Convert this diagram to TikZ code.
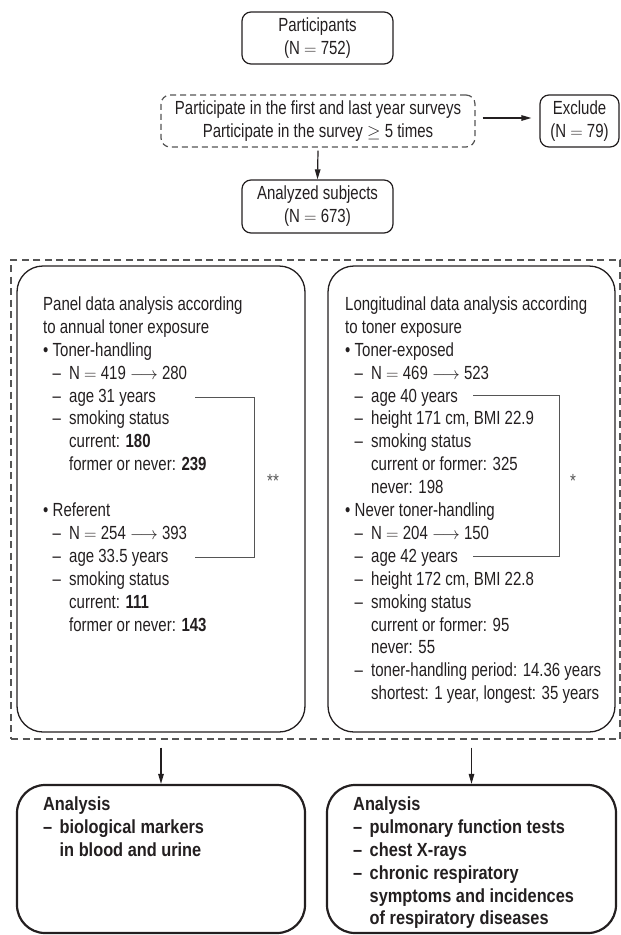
\documentclass[tikz,border=0pt]{standalone}
\usepackage{fontspec}
\setmainfont{Liberation Sans}[FakeStretch=0.79]
\newfontfamily\resfont{Liberation Sans}[FakeStretch=0.86]
\usetikzlibrary{arrows.meta}
\definecolor{ink}{HTML}{231F20}
\definecolor{dashc}{HTML}{555555}
\newcommand\myfs{\fontsize{19pt}{22.9pt}\selectfont}
\newcommand\myBul{\makebox[9.5pt][l]{\textbullet}}
\newcommand\myDash{\hspace*{9.5pt}\makebox[16.5pt][l]{–}}
\newcommand\myCont{\hspace*{26pt}}
\newcommand\myDashB{\makebox[16.5pt][l]{–}}
\newcommand\myContB{\hspace*{16.5pt}}
\begin{document}
\begin{tikzpicture}[x=1pt,y=-1pt,
  box/.style={draw=ink, line width=1.2pt, rounded corners=9pt, inner sep=0pt, align=center, font=\myfs, text=ink},
  dbox/.style={box, draw=dashc, dash pattern=on 6pt off 4pt},
  outerbox/.style={draw=dashc, line width=1.2pt, dash pattern=on 7pt off 4.5pt, inner sep=0pt},
  panel/.style={draw=ink, line width=1.3pt, rounded corners=26pt, inner sep=0pt},
  resbox/.style={draw=ink, line width=2.2pt, rounded corners=28pt, inner sep=0pt},
  txt/.style={inner sep=0pt, align=left, font=\myfs, text=ink},
  arr/.style={draw=ink, line width=1.2pt, -{Triangle[length=10pt,width=5.5pt]}},
  brk/.style={draw=dashc, line width=1pt}]
\useasboundingbox (0,0) rectangle (621,935);

\node[box, minimum width=151pt, minimum height=52pt] (part) at (317.5,38) {Participants\\(N $=$ 752)};
\node[dbox, minimum width=314pt, minimum height=52pt] (crit) at (318,121) {Participate in the first and last year surveys\\Participate in the survey $\geq$ 5 times};
\node[box, minimum width=79pt, minimum height=52pt] (excl) at (579.5,121) {Exclude\\(N $=$ 79)};
\node[box, minimum width=151pt, minimum height=53pt] (anal) at (317.5,206.5) {Analyzed subjects\\(N $=$ 673)};

\draw[arr] ([xshift=7pt,yshift=3pt]crit.east) -- ([xshift=-8pt,yshift=3pt]excl.west);
\draw[arr] ([yshift=-3pt]crit.south) -- (anal.north);

\node[outerbox, minimum width=609pt, minimum height=479pt] (outer) at (315.5,499.5) {};
\node[panel, minimum width=288pt, minimum height=466pt] (lpanel) at (161,499) {};
\node[panel, minimum width=287pt, minimum height=466pt] (rpanel) at (471.5,499) {};

\node[txt, anchor=north west] (ltext) at (43,296.5) {Panel data analysis according\\
to annual toner exposure\\
\myBul Toner-handling\\
\myDash N $=$ 419 $\longrightarrow$ 280\\
\myDash age 31 years\\
\myDash smoking status\\
\myCont current: \textbf{180}\\
\myCont former or never: \textbf{239}\\[22.9pt]
\myBul Referent\\
\myDash N $=$ 254 $\longrightarrow$ 393\\
\myDash age 33.5 years\\
\myDash smoking status\\
\myCont current: \textbf{111}\\
\myCont former or never: \textbf{143}};

\node[txt, anchor=north west] (rtext) at (345,296.5) {Longitudinal data analysis according\\
to toner exposure\\
\myBul Toner-exposed\\
\myDash N $=$ 469 $\longrightarrow$ 523\\
\myDash age 40 years\\
\myDash height 171 cm, BMI 22.9\\
\myDash smoking status\\
\myCont current or former: 325\\
\myCont never: 198\\
\myBul Never toner-handling\\
\myDash N $=$ 204 $\longrightarrow$ 150\\
\myDash age 42 years\\
\myDash height 172 cm, BMI 22.8\\
\myDash smoking status\\
\myCont current or former: 95\\
\myCont never: 55\\
\myDash toner-handling period: 14.36 years\\
\myCont shortest: 1 year, longest: 35 years};

\coordinate (la1) at (195,397);
\coordinate (la2) at (254,397);
\coordinate (la3) at (254,557);
\coordinate (la4) at (195,557);
\draw[brk] (la1) -- (la2) -- (la3) -- (la4);
\node[txt, text=dashc] (lstar) at (273,481) {**};

\coordinate (ra1) at (473,395);
\coordinate (ra2) at (559,395);
\coordinate (ra3) at (559,556);
\coordinate (ra4) at (473,556);
\draw[brk] (ra1) -- (ra2) -- (ra3) -- (ra4);
\node[txt, text=dashc] (rstar) at (573,481) {*};

\node[resbox, minimum width=288pt, minimum height=148pt] (lres) at (161,859) {};
\node[resbox, minimum width=289pt, minimum height=148pt] (rres) at (471.5,859) {};

\draw[arr] ([yshift=-15pt]lpanel.south) -- (lres.north);
\draw[arr] ([yshift=-15pt]rpanel.south) -- (rres.north);

\node[txt, anchor=north west, font=\myfs\resfont\bfseries] (lrtext) at (43,796.5) {Analysis\\
\myDashB biological markers\\
\myContB in blood and urine};

\node[txt, anchor=north west, font=\myfs\resfont\bfseries] (rrtext) at (353,796.5) {Analysis\\
\myDashB pulmonary function tests\\
\myDashB chest X-rays\\
\myDashB chronic respiratory\\
\myContB symptoms and incidences\\
\myContB of respiratory diseases};
\end{tikzpicture}
\end{document}
